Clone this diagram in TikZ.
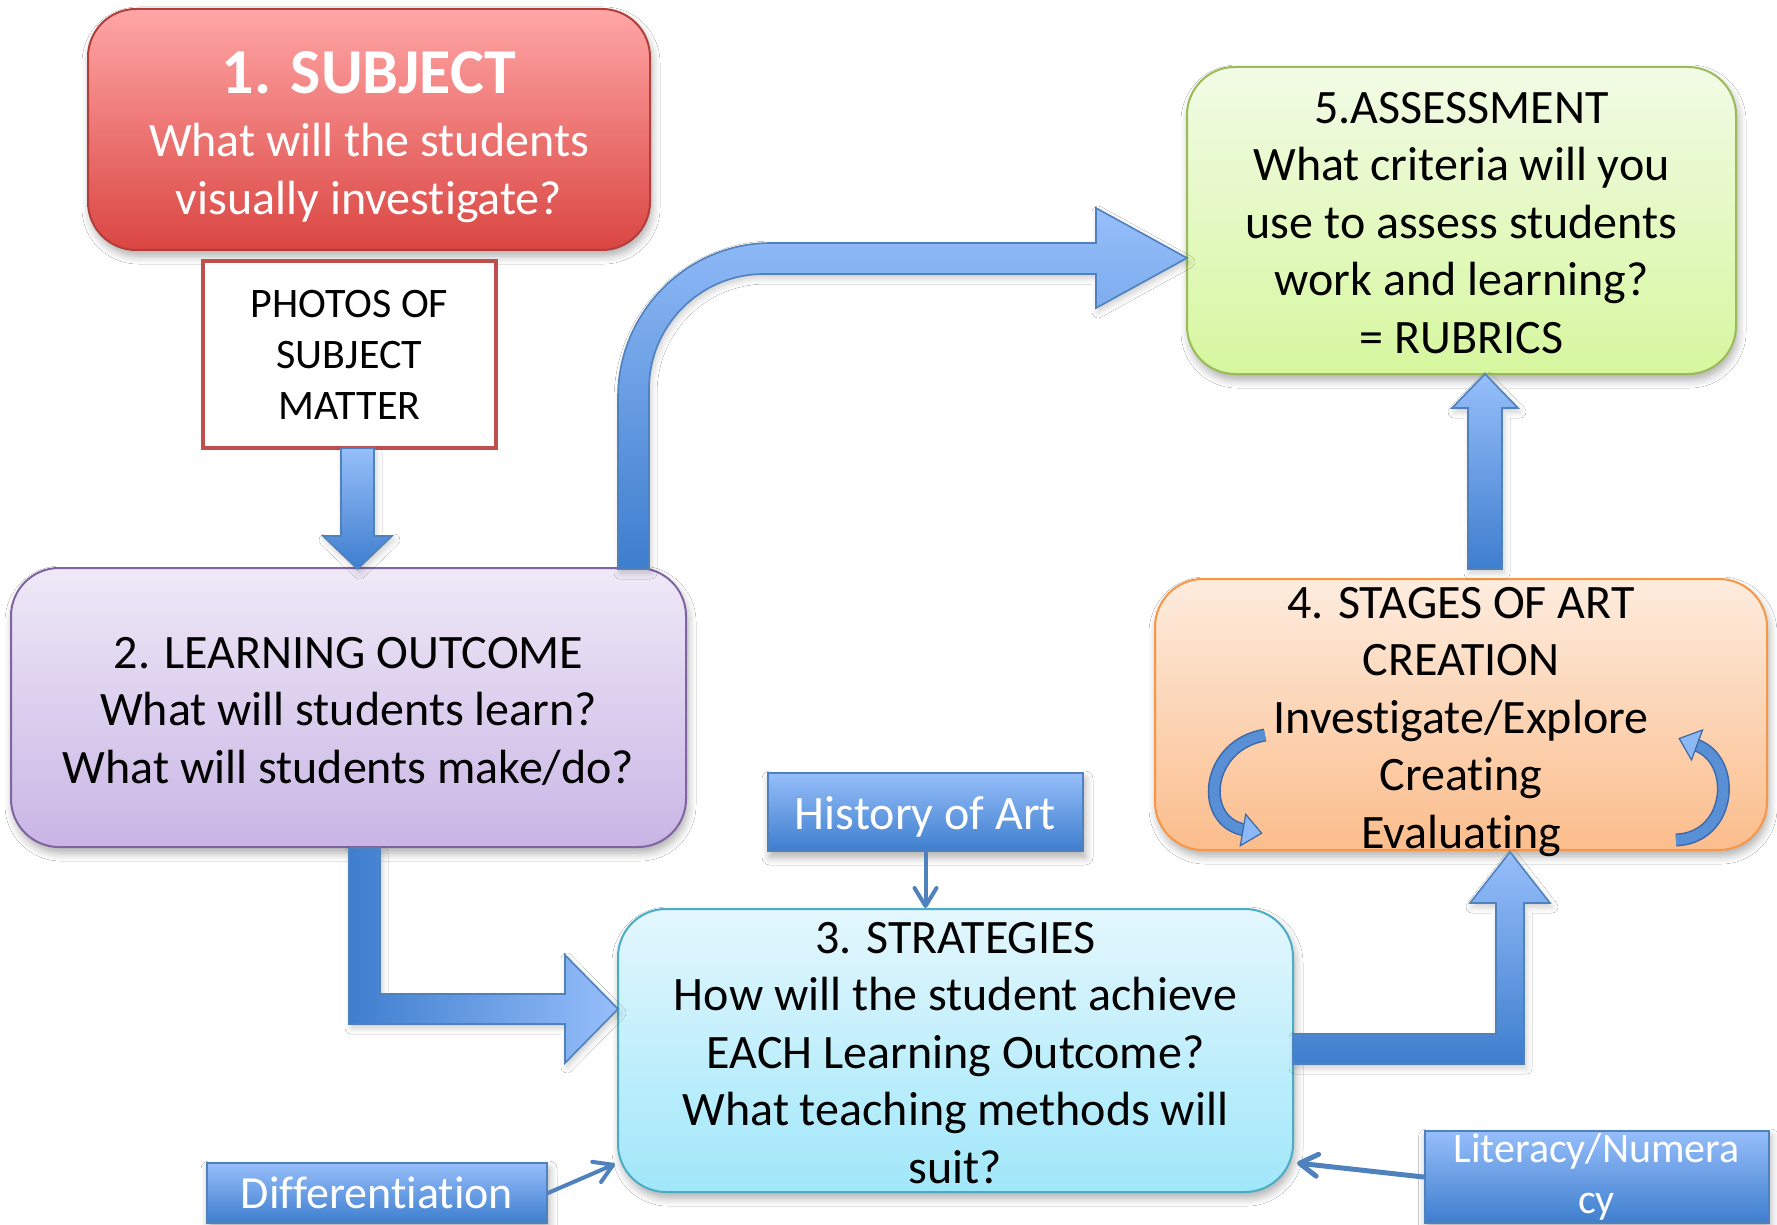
\documentclass[tikz,border=0pt]{standalone}
\usepackage{fontspec}
\setmainfont{Carlito}[Ligatures={NoCommon,NoContextual,NoRequired},
  RawFeature={-liga;-clig;-calt;-dlig}]
\usetikzlibrary{arrows.meta,shadows.blur,calc}

% break the t-i pair so it is never joined
\newcommand{\tisep}{t\kern0pt i}

% palette
\definecolor{redTop}{RGB}{255,166,166}
\definecolor{redBot}{RGB}{218,70,66}
\definecolor{redLine}{RGB}{178,62,60}
\definecolor{photoLine}{RGB}{192,80,77}
\definecolor{purTop}{RGB}{239,233,247}
\definecolor{purBot}{RGB}{201,181,229}
\definecolor{purLine}{RGB}{128,100,162}
\definecolor{grnTop}{RGB}{242,251,230}
\definecolor{grnBot}{RGB}{214,247,158}
\definecolor{grnLine}{RGB}{155,187,89}
\definecolor{orgTop}{RGB}{253,236,222}
\definecolor{orgBot}{RGB}{251,189,140}
\definecolor{orgLine}{RGB}{247,150,70}
\definecolor{cyTop}{RGB}{228,247,253}
\definecolor{cyBot}{RGB}{160,231,250}
\definecolor{cyLine}{RGB}{75,172,198}
\definecolor{bluLight}{RGB}{150,190,250}
\definecolor{bluDark}{RGB}{62,126,206}
\definecolor{bluLine}{RGB}{79,129,189}
\definecolor{loopFill}{RGB}{88,143,213}
\definecolor{loopLine}{RGB}{58,104,170}
\definecolor{loopHead}{RGB}{140,185,245}

\tikzset{
  softshadow/.style={blur shadow={shadow xshift=1pt, shadow yshift=-3pt,
      shadow blur radius=4pt, shadow blur steps=6, shadow opacity=32}},
  stagebox/.style={rectangle, rounded corners=24pt, line width=1pt, inner sep=0pt,
      softshadow},
  tagbox/.style={rectangle, draw=bluLine, line width=1pt, top color=bluLight,
      bottom color=bluDark, inner sep=0pt, softshadow},
  blockarrow/.style={draw=bluLine, line width=0.8pt, line join=miter,
      blur shadow={shadow xshift=1pt, shadow yshift=-2pt, shadow blur radius=3pt,
      shadow blur steps=5, shadow opacity=20}},
  thinlink/.style={draw=bluLine, line width=2pt, line cap=round,
      -{Straight Barb[length=9pt,width=11pt,line cap=round,line join=round]}},
  bodytext/.style={align=center, font=\fontsize{24}{28.75}\selectfont},
  smalltext/.style={align=center, font=\fontsize{21}{25.5}\selectfont},
}

\begin{document}
\begin{tikzpicture}[x=0.5pt,y=-0.5pt]
\fill[white] (0,0) rectangle (1777,1225);
\useasboundingbox (0,0) rectangle (1777,1225);

% ---------- stage boxes ----------
\node[stagebox, draw=redLine, top color=redTop, bottom color=redBot,
      minimum width=281pt, minimum height=120.5pt] (b1) at (369,129.5) {};
\node[bodytext, text=white] (b1text) at (369,137)
      {{\fontsize{32}{34}\selectfont\bfseries 1. SUBJECT}\\[2.7pt]
       What will the students\\ visually inves\tisep gate?};

\node[rectangle, draw=photoLine, line width=1.6pt, fill=white, inner sep=0pt,
      minimum width=146.5pt, minimum height=93.5pt, smalltext]
      (photos) at (349.5,354.5) {PHOTOS OF\\ SUBJECT\\ MATTER};

\node[stagebox, draw=purLine, top color=purTop, bottom color=purBot,
      minimum width=337.5pt, minimum height=139.5pt] (b2) at (348.5,707.5) {};
\node[bodytext] (b2text) at (348.5,711)
      {2. LEARNING OUTCOME\\ What will students learn?\\ What will students make/do?};

\node[stagebox, draw=grnLine, top color=grnTop, bottom color=grnBot,
      minimum width=274.5pt, minimum height=153.5pt] (b5) at (1461.5,220.5) {};
\node[bodytext] (b5text) at (1461.5,223)
      {5.ASSESSMENT\\ What criteria will you\\ use to assess students\\
       work and learning?\\ = RUBRICS};

\node[stagebox, draw=orgLine, top color=orgTop, bottom color=orgBot,
      minimum width=306pt, minimum height=135.5pt] (b4) at (1461,714.5) {};

\node[stagebox, draw=cyLine, top color=cyTop, bottom color=cyBot,
      minimum width=337.5pt, minimum height=141.5pt] (b3) at (955.5,1050.5) {};
\node[bodytext] (b3text) at (955.5,1053)
      {3. STRATEGIES\\ How will the student achieve\\ EACH Learning Outcome?\\
       What teaching methods will\\ suit?};

% ---------- side tags ----------
\node[tagbox, minimum width=157.5pt, minimum height=39pt] (hist) at (925.5,812) {};
\node[bodytext, text=white] (histtext) at (925.5,816.5) {History of Art};
\node[tagbox, minimum width=170pt, minimum height=30pt, text=white,
      align=center, font=\fontsize{23}{27}\selectfont]
      (diff) at (377,1193) {Differen\tisep a\tisep on};
\node[tagbox, minimum width=172pt, minimum height=46pt] (lit) at (1596.5,1177) {};
\node[smalltext, text=white] (littext) at (1596.5,1177) {Literacy/Numera\\ cy};

% ---------- block arrows ----------
% subject matter down into the learning outcome
\path[blockarrow, top color=bluLight, bottom color=bluDark]
  (341,448) -- (374,448) -- (374,536) -- (392,536) -- (357.5,569)
  -- (323,536) -- (341,536) -- cycle;

% learning outcome up and across to assessment
\path[blockarrow, top color=bluLight, bottom color=bluDark]
  (618,569) -- (618,397) .. controls (618,312) and (687,243) .. (771,243)
  -- (1096,243) -- (1096,208) -- (1187,258) -- (1096,308) -- (1096,274)
  -- (764,274) .. controls (700,274) and (649,326) .. (649,389)
  -- (649,569) -- cycle;

% learning outcome down and across to strategies
\path[blockarrow, left color=bluDark, right color=bluLight]
  (349,848) -- (380,848) -- (380,994) -- (565,994) -- (565,955) -- (618,1009)
  -- (565,1063) -- (565,1024) -- (349,1024) -- cycle;

% strategies across and up to stages of art creation
\path[blockarrow, top color=bluLight, bottom color=bluDark]
  (1293,1034) -- (1496,1034) -- (1496,903) -- (1470,903) -- (1510,852)
  -- (1550,903) -- (1524,903) -- (1524,1064) -- (1293,1064) -- cycle;

% stages of art creation up to assessment
\path[blockarrow, top color=bluLight, bottom color=bluDark]
  (1468,569) -- (1468,408) -- (1452,408) -- (1485,374) -- (1518,408)
  -- (1502,408) -- (1502,569) -- cycle;

% ---------- cycle arrows inside the stages box ----------
\draw[loopLine, line width=6.5pt]
  (1265,735) .. controls (1205,745) and (1198,822) .. (1245,830);
\draw[loopFill, line width=5pt]
  (1265,735) .. controls (1205,745) and (1198,822) .. (1245,830);
\filldraw[fill=loopHead, draw=loopLine, line width=0.6pt, line join=miter]
  (1240.3,845.7) -- (1245.7,814.3) -- (1261.6,833.2) -- cycle;

\draw[loopLine, line width=6.5pt]
  (1676,840) .. controls (1732,838) and (1738,760) .. (1696,745);
\draw[loopFill, line width=5pt]
  (1676,840) .. controls (1732,838) and (1738,760) .. (1696,745);
\filldraw[fill=loopHead, draw=loopLine, line width=0.6pt, line join=miter]
  (1702.5,730) -- (1691.5,760) -- (1679.2,738.5) -- cycle;

\node[bodytext] (b4text) at (1461,722)
  {4. STAGES OF ART\\ CREATION\\ Inves\tisep gate/Explore\\ Creating\\ Evaluating};

% ---------- thin links ----------
\draw[thinlink] (hist.south) -- (hist.south |- b3.north);
\draw[thinlink] (diff.east) -- ($(b3.south west)+(-2,-29)$);
\draw[thinlink, line width=2.5pt] (lit.west) -- ($(b3.south east)+(3,-30)$);

\end{tikzpicture}
\end{document}
